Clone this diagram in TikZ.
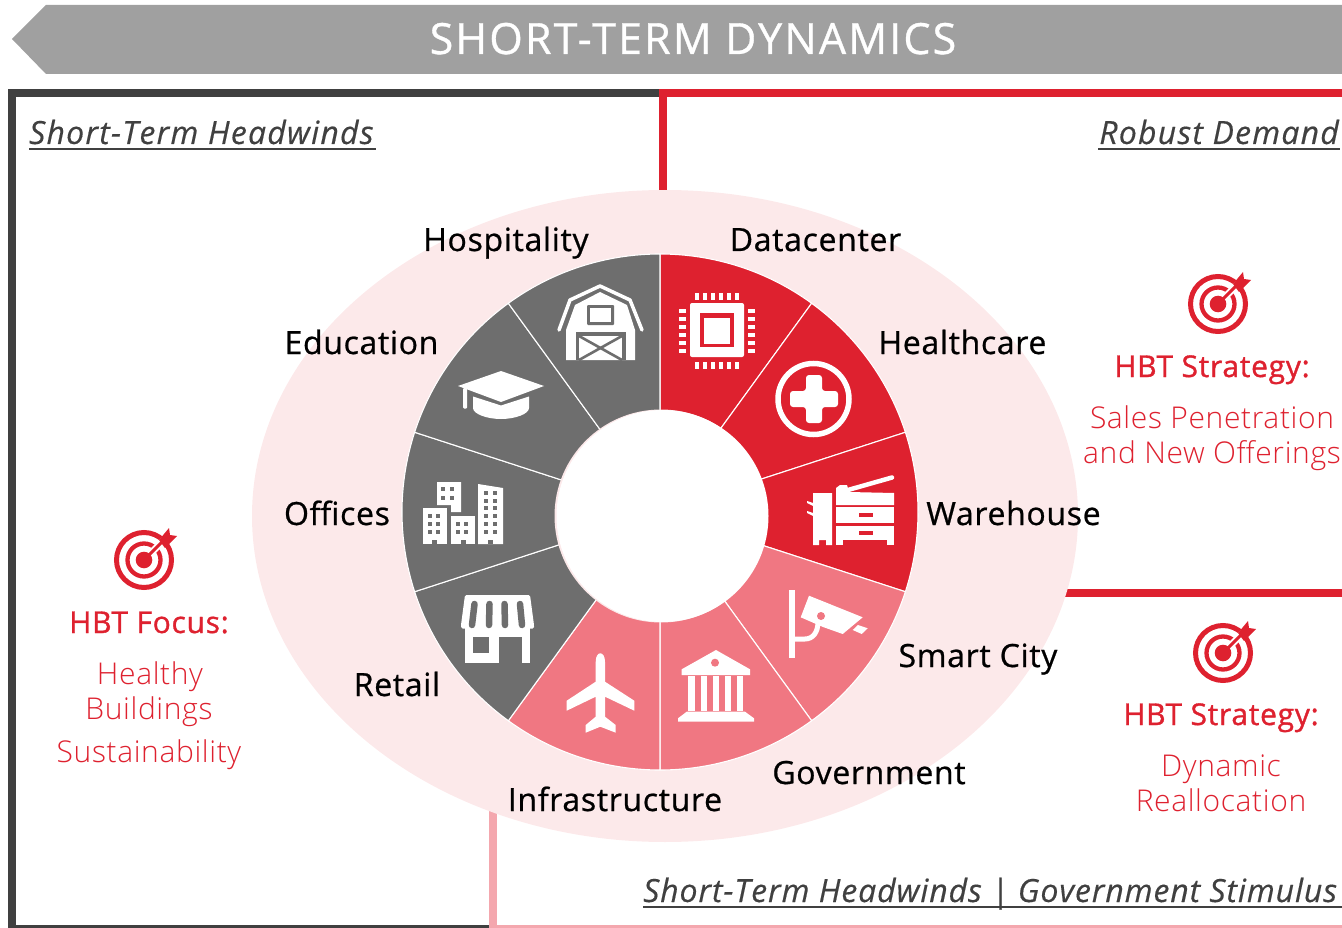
\documentclass[tikz,border=0pt]{standalone}
\usepackage{fontspec}
\setmainfont{Open Sans}
\newfontfamily\lightfont{Open Sans Light}
\definecolor{darkFrame}{RGB}{64,64,64}
\definecolor{titleGrey}{RGB}{160,160,160}
\definecolor{hbtRed}{RGB}{222,33,47}
\definecolor{hbtPink}{RGB}{240,119,130}
\definecolor{hbtGrey}{RGB}{110,110,110}
\definecolor{hazePink}{RGB}{252,233,234}
\definecolor{framePink}{RGB}{244,167,174}
\tikzset{
  sector/.style={fill=#1, draw=white, line width=1.1pt},
  sectorlabel/.style={anchor=base, text=black, font=\fontsize{32}{32}\selectfont\addfontfeatures{FakeBold=0.7,LetterSpace=2.1}},
  toplabel/.style={anchor=base, text=darkFrame, inner xsep=0pt, font=\fontsize{32}{32}\selectfont\itshape\addfontfeatures{FakeBold=0.4,LetterSpace=3.8}},
  focuslabel/.style={anchor=base, text=hbtRed, font=\fontsize{30}{30}\selectfont\addfontfeatures{FakeBold=1.1,LetterSpace=2.4}},
  redlabel/.style={anchor=base, text=hbtRed, font=\fontsize{30}{30}\lightfont\selectfont\addfontfeatures{LetterSpace=2.1}},
  underrule/.style={darkFrame, line width=1.9pt}
}
% the red target with its arrow
\newcommand{\hbttarget}[1]{
  \begin{scope}[shift={#1}]
    \draw[hbtRed, line width=5pt] (0,0) circle(27.5pt);
    \draw[hbtRed, line width=4.3pt] (0,0) circle(16.5pt);
    \draw[white, line width=7pt] (0,0) -- (24,-24);
    \draw[hbtRed, line width=3pt] (0,0) -- (18,-18);
    \fill[hbtRed] (0,0) circle(8.3pt);
    \fill[hbtRed] (15,-20) -- (25,-32) -- (26,-25) -- (33,-24) -- (21,-12) -- cycle;
  \end{scope}
}
\begin{document}
\begin{tikzpicture}[x=1pt, y=-1pt]
  \useasboundingbox (0, 0) rectangle(1342, 928);

  % the title arrow
  \fill[titleGrey] (12, 39) -- (46, 5) -- (1342, 5) -- (1342, 74) -- (46, 74) -- cycle;
  \node[anchor=base, text=white, font=\fontsize{43}{43}\selectfont\addfontfeatures{FakeBold=0.8,LetterSpace=5}] (title) at (693, 54) {SHORT-TERM DYNAMICS};

  % the frames
  \fill[darkFrame] (8, 89) rectangle(660, 97);
  \fill[darkFrame] (8, 89) rectangle(16, 928);
  \fill[darkFrame] (8, 925) rectangle(489, 928);
  \fill[hbtRed] (659, 89) rectangle(1342, 97);
  \fill[hbtRed] (659, 89) rectangle(667, 200);
  \fill[hbtRed] (1040, 589) rectangle(1342, 597);
  \fill[framePink] (489, 800) rectangle(497, 928);
  \fill[framePink] (489, 925) rectangle(1342, 928);

  % the haze behind the wheel
  \fill[hazePink] (665, 516) circle[x radius=413pt, y radius=326pt];

  % the wheel
  \foreach \a/\c in {90/hbtRed, 54/hbtRed, 18/hbtRed, -18/hbtPink, -54/hbtPink, -90/hbtPink, -126/hbtGrey, -162/hbtGrey, -198/hbtGrey, -234/hbtGrey}
    \draw[sector=\c] (660, 512) -- +(\a:258pt) arc[start angle=\a, delta angle=-36, radius=258pt] -- cycle;
  \fill[hazePink] (661, 516) circle(106.5pt);
  \fill[white] (662.5, 516) circle(106pt);

  % datacenter chip
  \fill[white, rounded corners=2pt] (690, 303) rectangle(744, 357);
  \fill[hbtRed] (700, 313) rectangle(734, 347);
  \fill[white] (704, 318) rectangle(730, 344);
  \foreach \p in {0, 8, ..., 40} {
    \fill[white] (695+\p, 293) rectangle +(4, 7);
    \fill[white] (695+\p, 362) rectangle +(4, 7);
    \fill[white] (679, 309+\p) rectangle +(7, 4);
    \fill[white] (748, 309+\p) rectangle +(7, 4);
  }

  % healthcare cross
  \draw[white, line width=5.5pt] (813.5, 399) circle(35.5pt);
  \fill[white, rounded corners=3pt] (806, 375) -- (822, 375) -- (822, 391) -- (838, 391) -- (838, 407) -- (822, 407) -- (822, 423) -- (806, 423) -- (806, 407) -- (790, 407) -- (790, 391) -- (806, 391) -- cycle;

  % warehouse printer
  \fill[white] (813, 493) -- (832, 493) -- (832, 545) -- (826, 545) -- (826, 540) -- (819, 540) -- (819, 545) -- (813, 545) -- cycle;
  \fill[white] (807, 501) -- (813, 503) -- (813, 506) -- (807, 503) -- cycle;
  \fill[white] (807, 511) -- (813, 513) -- (813, 516) -- (807, 513) -- cycle;
  \fill[white] (836, 488) -- (840, 485) -- (847, 485) -- (849, 492) -- (894, 493) -- (894, 505) -- (836, 505) -- cycle;
  \draw[white, line width=4.5pt, line cap=round] (848, 490) -- (892, 477.5);
  \fill[white] (836, 507) rectangle(894, 523);
  \fill[hbtRed] (859, 513) rectangle(873, 517);
  \fill[white] (836, 526) rectangle(894, 540);
  \fill[hbtRed] (859, 531) rectangle(873, 535);
  \fill[white] (836, 540) rectangle(843, 545);
  \fill[white] (887, 540) rectangle(894, 545);

  % smart city camera
  \fill[white] (789.3, 590) rectangle(795, 657.7);
  \draw[white, line width=5pt] (795, 639) -- (805, 639) .. controls (813, 639) and (818, 632) .. (818, 622);
  \fill[white] (809, 595.7) -- (862.7, 617.3) -- (842.7, 634) -- (823, 627) -- (800.7, 617.3) -- cycle;
  \fill[hbtPink] (821, 616) circle(4pt);
  \fill[white] (858, 625) -- (867.7, 628.3) -- (861.7, 634) -- (852.7, 630) -- cycle;

  % government building
  \fill[white] (716, 650) -- (681.7, 669.3) -- (681.7, 675) -- (750, 675) -- (750, 669.3) -- cycle;
  \fill[hbtPink] (715, 662.7) circle(4pt);
  \foreach \p in {688.3, 700.5, 712.5, 724.8, 736.7}
    \fill[white] (\p, 676) rectangle +(6.2, 35);
  \fill[white] (686.7, 711.7) -- (745, 711.7) -- (754, 718.3) -- (754, 721.7) -- (678, 721.7) -- (678, 718.3) -- cycle;

  % infrastructure plane
  \fill[white] (595.7, 662) .. controls (595.7, 656) and (598, 653.3) .. (600.3, 653.3) .. controls (602.7, 653.3) and (605, 656) .. (605, 662) -- (605, 681.7) -- (634.3, 700.7) -- (634.3, 710.7) -- (605, 696.7) -- (605, 716.7) -- (615.7, 725) -- (615.7, 732.7) -- (600.3, 726.7) -- (585.7, 732.7) -- (585.7, 725) -- (595.7, 716.7) -- (595.7, 696.7) -- (566.7, 710.7) -- (566.7, 700.7) -- (595.7, 681.7) -- cycle;

  % retail shop
  \fill[white, rounded corners=1.5pt] (465, 595) -- (530, 595) -- (534, 625) -- (534, 628.5) -- (461, 628.5) -- (461, 625) -- cycle;
  \fill[white] (465, 626) rectangle(530, 663);
  \fill[hbtGrey] (473, 637) rectangle(489, 653);
  \fill[hbtGrey] (499, 637) rectangle(522, 663);
  \foreach \p/\q in {474.5/472, 489.5/489, 504.5/505, 520/522}
    \draw[hbtGrey, line width=6.5pt, line cap=round] (\p, 604) -- (\q, 625);

  % offices buildings
  \fill[white] (437, 482) -- (461, 482) -- (461, 512) -- (451, 512) -- (451, 505) -- (437, 505) -- cycle;
  \fill[white] (423, 508) rectangle(447, 544);
  \fill[white] (451, 516) rectangle(475, 544);
  \fill[white] (478, 484) -- (503, 488) -- (503, 544) -- (478, 544) -- cycle;
  \foreach \p/\q in {443/489, 452/489, 443/498, 452/498, 430/516, 438/516, 430/524, 438/524, 430/532, 438/532, 458/524, 466/524, 458/532, 466/532, 486/493, 495/493, 486/501, 495/501, 486/508, 495/508, 486/516, 495/516, 486/524, 495/524, 486/532, 495/532}
    \fill[hbtGrey] (\p-2, \q-2) rectangle +(4, 4);
  \foreach \p in {432, 460.5, 488}
    \fill[hbtGrey] (\p, 540) rectangle +(5, 4);

  % education cap
  \fill[white] (458, 386) -- (501, 371) -- (544, 386) -- (501, 402) -- cycle;
  \fill[white, rounded corners=1pt] (463, 388) rectangle(467, 408.5);
  \fill[white] (473, 396.5) -- (501, 405.5) -- (529, 396.5) -- (529, 408) .. controls (529, 414) and (515, 419) .. (501, 419) .. controls (487, 419) and (473, 414) .. (473, 408) -- cycle;

  % hospitality barn
  \draw[white, line width=3.5pt, line cap=round, line join=round] (559, 330) -- (570, 300) -- (600, 286) -- (630, 300) -- (642, 330);
  \fill[white] (600, 292) -- (575, 305) -- (566, 330) -- (566, 360) -- (635, 360) -- (635, 330) -- (627, 305) -- cycle;
  \fill[hbtGrey, rounded corners=1pt] (587, 305) rectangle(614, 325);
  \fill[white] (590, 308) rectangle(611, 322);
  \fill[hbtGrey] (576, 332) rectangle(626, 360);
  \fill[white] (579, 336) rectangle(622, 360);
  \draw[hbtGrey, line width=2.6pt] (579, 336) -- (622, 360);
  \draw[hbtGrey, line width=2.6pt] (622, 336) -- (579, 360);

  % the sector labels
  \node[sectorlabel] (hospitality) at (506, 251) {Hospitality};
  \node[sectorlabel] (datacenter) at (815.5, 251) {Datacenter};
  \node[sectorlabel] (education) at (361.5, 354) {Education};
  \node[sectorlabel] (healthcare) at (962.5, 354) {Healthcare};
  \node[sectorlabel] (offices) at (337, 525) {Offices};
  \node[sectorlabel] (warehouse) at (1013.5, 525) {Warehouse};
  \node[sectorlabel] (smartcity) at (978, 667) {Smart City};
  \node[sectorlabel] (retail) at (397, 696) {Retail};
  \node[sectorlabel] (government) at (869, 784) {Government};
  \node[sectorlabel] (infrastructure) at (615, 811) {Infrastructure};

  % the corner headings
  \node[toplabel, anchor=base west] (headwinds) at (29, 144) {Short-Term Headwinds};
  \draw[underrule] (29, 149) -- (376, 149);
  \node[toplabel, anchor=base east] (robust) at (1339, 144) {Robust Demand};
  \draw[underrule] (1098, 149) -- (1340, 149);
  \node[toplabel, anchor=base west, font=\fontsize{32}{32}\selectfont\itshape\addfontfeatures{FakeBold=0.4,LetterSpace=2.8}] (stimulus) at (643, 902) {Short-Term Headwinds | Government Stimulus};
  \draw[underrule] (643, 907) -- (1342, 907);

  % the left text
  \hbttarget{(144, 560)}
  \node[focuslabel] (focus) at (149, 633) {HBT Focus:};
  \node[redlabel] (healthy) at (150, 684) {Healthy};
  \node[redlabel] (buildings) at (149, 719) {Buildings};
  \node[redlabel] (sustain) at (149, 762) {Sustainability};

  % the right text
  \hbttarget{(1218, 304)}
  \node[focuslabel] (strategya) at (1212, 377) {HBT Strategy:};
  \node[redlabel] (sales) at (1212, 428) {Sales Penetration};
  \node[redlabel] (offerings) at (1212, 463) {and New Offerings};
  \hbttarget{(1223, 653)}
  \node[focuslabel] (strategyb) at (1221, 725) {HBT Strategy:};
  \node[redlabel] (dynamic) at (1221, 776) {Dynamic};
  \node[redlabel] (realloc) at (1221, 811) {Reallocation};
\end{tikzpicture}
\end{document}
